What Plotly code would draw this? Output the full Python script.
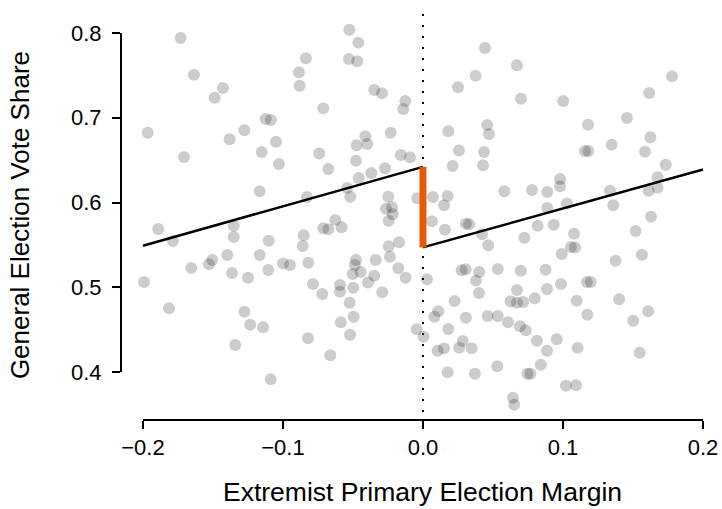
import plotly.graph_objects as go

# Primary election margin (running variable) and general election vote share
margin = [
    -0.1731, -0.1636, -0.1429, -0.1488, -0.1124, -0.1086, -0.1966, -0.1276, -0.1381, -0.1050,
    -0.1152, -0.1707, -0.0526, -0.0462, -0.0836, -0.0529, -0.0469, -0.0886, -0.0881, -0.0348,
    -0.0293, -0.0126, -0.0141, -0.0712, -0.0231, -0.0412, -0.0474, -0.0398, -0.0741, -0.0159,
    -0.0093, -0.1029, -0.1166, -0.1891, -0.1786, -0.1352, -0.1352, -0.1102, -0.1398, -0.1166,
    -0.1655, -0.1529, -0.1505, -0.1364, -0.1105, -0.1250, -0.1993, -0.1000, -0.0950, -0.0676,
    -0.0479, -0.0271, -0.0369, -0.0459, -0.0541, -0.0519, -0.0829, -0.0248, -0.0264, -0.0221,
    -0.0216, -0.0245, -0.0041, -0.0626, -0.0712, -0.0676, -0.0581, -0.0852, -0.0859, -0.0171,
    -0.0245, -0.0236, -0.0819, -0.0479, -0.0486, -0.0338, -0.0176, -0.0502, -0.0445, -0.0348,
    -0.0124, -0.0593, -0.0593, -0.0786, -0.0393, -0.1814, -0.1276, -0.1234, -0.1143, -0.1341,
    -0.1088, -0.0719, -0.0498, -0.0291, -0.0524, -0.0495, -0.0586, -0.0521, -0.0821, -0.0662,
    -0.0045,
    0.0004, 0.0029, 0.0443, 0.0671, 0.0376, 0.0250, 0.0700, 0.1002, 0.0459, 0.0471,
    0.0181, 0.0257, 0.0436, 0.1779, 0.1616, 0.1457, 0.1179, 0.1624, 0.1348, 0.1157,
    0.1182, 0.1586, 0.0212, 0.0429, 0.0979, 0.0979, 0.0581, 0.0779, 0.0888, 0.0071,
    0.0176, 0.0150, 0.1029, 0.0888, 0.0064, 0.0307, 0.0329, 0.0157, 0.0819, 0.0934,
    0.0421, 0.0724, 0.0466, 0.1079, 0.0991, 0.1057, 0.1086, 0.0276, 0.0305, 0.0402,
    0.0534, 0.0698, 0.0876, 0.0379, 0.0986, 0.1734, 0.1676, 0.1336, 0.1612, 0.1676,
    0.1359, 0.1629, 0.1519, 0.1564, 0.1376, 0.1171, 0.1198, 0.0400, 0.0671, 0.0626,
    0.0671, 0.0716, 0.0798, 0.0886, 0.0226, 0.0109, 0.0081, 0.0307, 0.0462, 0.0534,
    0.0607, 0.0693, 0.0734, 0.0181, 0.0284, 0.0259, 0.0348, 0.0105, 0.0150, 0.0814,
    0.0955, 0.0886, 0.0841, 0.0531, 0.0176, 0.0371, 0.0746, 0.0768, 0.1021, 0.1093,
    0.0643, 0.0652, 0.1098, 0.1402, 0.1174, 0.1502, 0.1609, 0.1105, 0.1548,
]
vote_share = [
    0.7941, 0.7508, 0.7351, 0.7237, 0.6985, 0.6973, 0.6824, 0.6852, 0.6746, 0.6717,
    0.6596, 0.6537, 0.8039, 0.7886, 0.7701, 0.7693, 0.7666, 0.7536, 0.7378, 0.7327,
    0.7289, 0.7198, 0.7103, 0.7112, 0.6824, 0.6781, 0.6675, 0.6690, 0.6578, 0.6560,
    0.6533, 0.6454, 0.6132, 0.5687, 0.5546, 0.5726, 0.5593, 0.5549, 0.5381, 0.5381,
    0.5227, 0.5271, 0.5322, 0.5168, 0.5204, 0.5113, 0.5062, 0.5280, 0.5263, 0.6395,
    0.6493, 0.6404, 0.6348, 0.6289, 0.6171, 0.6068, 0.6065, 0.6068, 0.5927, 0.5943,
    0.5861, 0.5785, 0.6050, 0.5794, 0.5696, 0.5684, 0.5707, 0.5613, 0.5487, 0.5530,
    0.5483, 0.5361, 0.5290, 0.5322, 0.5263, 0.5322, 0.5224, 0.5156, 0.5180, 0.5136,
    0.5113, 0.5027, 0.4948, 0.5038, 0.5056, 0.4752, 0.4712, 0.4558, 0.4528, 0.4319,
    0.3914, 0.4920, 0.4995, 0.4940, 0.4818, 0.4653, 0.4587, 0.4440, 0.4398, 0.4197,
    0.4504,
    0.4417, 0.5094, 0.7823, 0.7619, 0.7496, 0.7359, 0.7225, 0.7198, 0.6914, 0.6808,
    0.6840, 0.6614, 0.6596, 0.7489, 0.7292, 0.6997, 0.6918, 0.6769, 0.6682, 0.6608,
    0.6608, 0.6599, 0.6431, 0.6439, 0.6277, 0.6191, 0.6132, 0.6148, 0.6124, 0.6065,
    0.6077, 0.5967, 0.5988, 0.5935, 0.5778, 0.5750, 0.5743, 0.5679, 0.5726, 0.5738,
    0.5625, 0.5585, 0.5495, 0.5632, 0.5392, 0.5475, 0.5469, 0.5200, 0.5212, 0.5180,
    0.5215, 0.5195, 0.5207, 0.5080, 0.5038, 0.6446, 0.6297, 0.6139, 0.6139, 0.6175,
    0.5967, 0.5833, 0.5664, 0.5384, 0.5313, 0.5062, 0.5062, 0.4932, 0.4968, 0.4834,
    0.4818, 0.4826, 0.4870, 0.4980, 0.4838, 0.4716, 0.4653, 0.4641, 0.4661, 0.4661,
    0.4587, 0.4539, 0.4492, 0.4507, 0.4366, 0.4287, 0.4280, 0.4251, 0.4280, 0.4369,
    0.4386, 0.4251, 0.4086, 0.4067, 0.3997, 0.3980, 0.3980, 0.3980, 0.3838, 0.3843,
    0.3697, 0.3614, 0.4841, 0.4858, 0.4676, 0.4605, 0.4716, 0.4287, 0.4228,
]

# Fitted linear trends on each side of the cutoff
left_fit_x = [-0.2, 0.0]
left_fit_y = [0.549, 0.642]
right_fit_x = [0.0, 0.2]
right_fit_y = [0.547, 0.639]

x_ticks = [-0.2, -0.1, 0.0, 0.1, 0.2]
y_ticks = [0.4, 0.5, 0.6, 0.7, 0.8]

FONT = "Liberation Sans, Arial, Helvetica, sans-serif"

fig = go.Figure()

fig.add_trace(go.Scatter(
    x=margin, y=vote_share, mode="markers",
    marker=dict(size=12, color="rgba(0,0,0,0.2)", line=dict(width=0)),
    hoverinfo="skip", showlegend=False,
))

fig.add_trace(go.Scatter(
    x=left_fit_x, y=left_fit_y, mode="lines",
    line=dict(color="black", width=2.5), showlegend=False,
))
fig.add_trace(go.Scatter(
    x=right_fit_x, y=right_fit_y, mode="lines",
    line=dict(color="black", width=2.5), showlegend=False,
))

# Discontinuity at the threshold
fig.add_trace(go.Scatter(
    x=[0.0, 0.0], y=[left_fit_y[-1], right_fit_y[0]], mode="lines",
    line=dict(color="#E65A0A", width=7), showlegend=False,
))

shapes = [
    # cutoff
    dict(type="line", xref="x", yref="paper", x0=0, x1=0, y0=0.02, y1=1.017,
         line=dict(color="black", width=2, dash="2px,9px"), layer="below"),
    # detached axis lines spanning the tick range
    dict(type="line", xref="x", yref="paper", x0=x_ticks[0], x1=x_ticks[-1], y0=0, y1=0,
         line=dict(color="black", width=2)),
    dict(type="line", xref="paper", yref="y", x0=0, x1=0, y0=y_ticks[0], y1=y_ticks[-1],
         line=dict(color="black", width=2)),
]

fig.update_layout(
    width=722, height=509,
    margin=dict(l=121, r=0, t=15, b=89),
    paper_bgcolor="white", plot_bgcolor="white",
    font=dict(family=FONT, color="black", size=22),
    shapes=shapes,
    xaxis=dict(
        range=[-0.2157, 0.2136], tickvals=x_ticks, tickformat=".1f",
        ticks="outside", ticklen=8, tickwidth=2, tickcolor="black",
        showline=False, showgrid=False, zeroline=False,
        tickfont=dict(size=22, family=FONT),
    ),
    yaxis=dict(
        range=[0.3434, 0.8212], tickvals=y_ticks, tickformat=".1f",
        ticks="outside", ticklen=8, tickwidth=2, tickcolor="black",
        showline=False, showgrid=False, zeroline=False,
        tickfont=dict(size=22, family=FONT), ticklabelstandoff=6,
    ),
    annotations=[
        dict(text="Extremist Primary Election Margin", xref="x", yref="paper",
             x=0, y=-0.2198, xanchor="center", yanchor="bottom", showarrow=False,
             font=dict(size=26.5, family=FONT)),
        dict(text="General Election Vote Share", xref="paper", yref="paper",
             x=-0.168, y=0.506, xanchor="center", yanchor="middle", textangle=-90,
             showarrow=False, font=dict(size=26, family=FONT)),
    ],
)

fig.write_html("out.html")
